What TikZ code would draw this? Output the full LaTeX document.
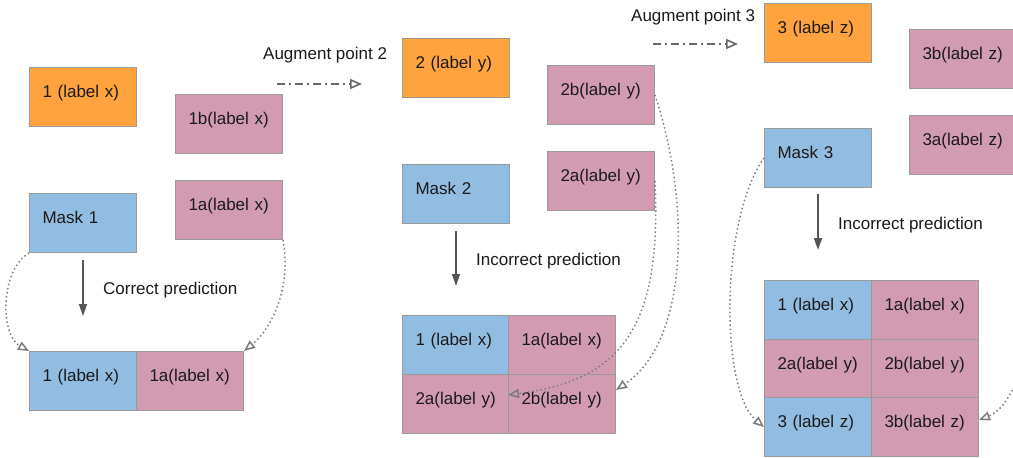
\documentclass[tikz,border=0pt]{standalone}
\usepackage{fontspec}
\setmainfont{Liberation Sans}
\usetikzlibrary{arrows.meta,calc}
\definecolor{boxorange}{HTML}{FFA33F}
\definecolor{boxpink}{HTML}{D39BB2}
\definecolor{boxblue}{HTML}{92BDE3}
\definecolor{boxline}{HTML}{9A9A9A}
\definecolor{ink}{HTML}{1A1A1A}
\definecolor{flowgrey}{HTML}{555555}
\definecolor{dashgrey}{HTML}{666666}
\definecolor{dotgrey}{HTML}{7A7A7A}
\begin{document}
\begin{tikzpicture}[x=1pt,y=-1pt,
  cell/.style={draw=boxline, line width=1pt, anchor=north west,
    minimum width=107pt, minimum height=59pt, inner xsep=13pt, inner ysep=0pt,
    text width=81pt, align=left, text height=8pt, text depth=7pt,
    font=\fontsize{17}{20}\selectfont, text=ink},
  orangecell/.style={cell, fill=boxorange},
  pinkcell/.style={cell, fill=boxpink},
  bluecell/.style={cell, fill=boxblue},
  caption/.style={anchor=west, inner sep=0pt, font=\fontsize{17}{20}\selectfont, text=ink},
  flow/.style={draw=flowgrey, line width=1.4pt, -{Triangle[length=12pt,width=8pt]}},
  augment/.style={draw=dashgrey, line width=1.6pt,
    dash pattern=on 8pt off 4pt on 2pt off 4pt, -{Triangle[open,length=12pt,width=10pt]}},
  copyline/.style={draw=dotgrey, line width=1.5pt,
    dash pattern=on 1.4pt off 2.8pt, -{Triangle[open,length=11pt,width=9pt]}}
]
\useasboundingbox (0,0) rectangle (1013,458);
\clip (0,0) rectangle (1013,458);

% ---------- first augmentation point ----------
\node[orangecell] (o1) at (29,67) {1 (label x)};
\node[pinkcell] (b1b) at (175,94) {1b(label x)};
\node[pinkcell] (b1a) at (175,180) {1a(label x)};
\node[bluecell] (m1) at (29,193) {Mask 1};
\node[bluecell] (r1x) at (29,351) {1 (label x)};
\node[pinkcell] (r1a) at (136,351) {1a(label x)};
\draw[flow, shorten <=7pt, shorten >=35pt] (m1) -- (r1x);
\node[caption] (c1) at (103,290) {Correct prediction};
\draw[copyline] (m1.south west) .. controls (0,270) and (0,335) .. (r1x.north west);
\draw[copyline] (b1a.south east) .. controls (292,290) and (270,330) .. (r1a.north east);

% ---------- second augmentation point ----------
\node[caption] (ap2) at (263,55) {Augment point 2};
\coordinate (a2s) at (277,84);
\coordinate (a2e) at (362,84);
\draw[augment] (a2s) -- (a2e);
\node[orangecell] (o2) at (402,38) {2 (label y)};
\node[pinkcell] (b2b) at (547,65) {2b(label y)};
\node[pinkcell] (b2a) at (547,151) {2a(label y)};
\node[bluecell] (m2) at (402,164) {Mask 2};
\node[bluecell, minimum width=106pt] (g2a) at (402,315) {1 (label x)};
\node[pinkcell, minimum width=106pt] (g2b) at (508,315) {1a(label x)};
\node[pinkcell, minimum width=106pt] (g2c) at (402,374) {2a(label y)};
\node[pinkcell, minimum width=106pt] (g2d) at (508,374) {2b(label y)};
\draw[flow, shorten <=7pt, shorten >=29pt] (m2) -- (g2a);
\node[caption] (c2) at (476,261) {Incorrect prediction};
\draw[copyline] (b2a.east) .. controls (662,330) and (620,380) .. ([yshift=9pt]g2d.west);
\draw[copyline] (b2b.east) .. controls (690,200) and (690,340) .. ([yshift=14pt]g2d.east);

% ---------- third augmentation point ----------
\node[caption] (ap3) at (631,17) {Augment point 3};
\coordinate (a3s) at (653,44);
\coordinate (a3e) at (738,44);
\draw[augment] (a3s) -- (a3e);
\node[orangecell] (o3) at (764,3) {3 (label z)};
\node[pinkcell] (b3b) at (909,29) {3b(label z)};
\node[pinkcell] (b3a) at (909,115) {3a(label z)};
\node[bluecell] (m3) at (764,128) {Mask 3};
\node[bluecell] (g3a) at (764,280) {1 (label x)};
\node[pinkcell, minimum width=106pt] (g3b) at (871,280) {1a(label x)};
\node[pinkcell] (g3c) at (764,339) {2a(label y)};
\node[pinkcell, minimum width=106pt] (g3d) at (871,339) {2b(label y)};
\node[bluecell] (g3e) at (764,397) {3 (label z)};
\node[pinkcell, minimum width=106pt] (g3f) at (871,397) {3b(label z)};
\draw[flow, shorten <=6pt, shorten >=30pt] (m3) -- (g3a);
\node[caption] (c3) at (838,225) {Incorrect prediction};
\draw[copyline] (m3.west) .. controls (720,220) and (720,390) .. (g3e.west);
\draw[copyline] (b3b.east) .. controls (1060,250) and (1030,400) .. ([yshift=7pt]g3f.east);
\end{tikzpicture}
\end{document}
